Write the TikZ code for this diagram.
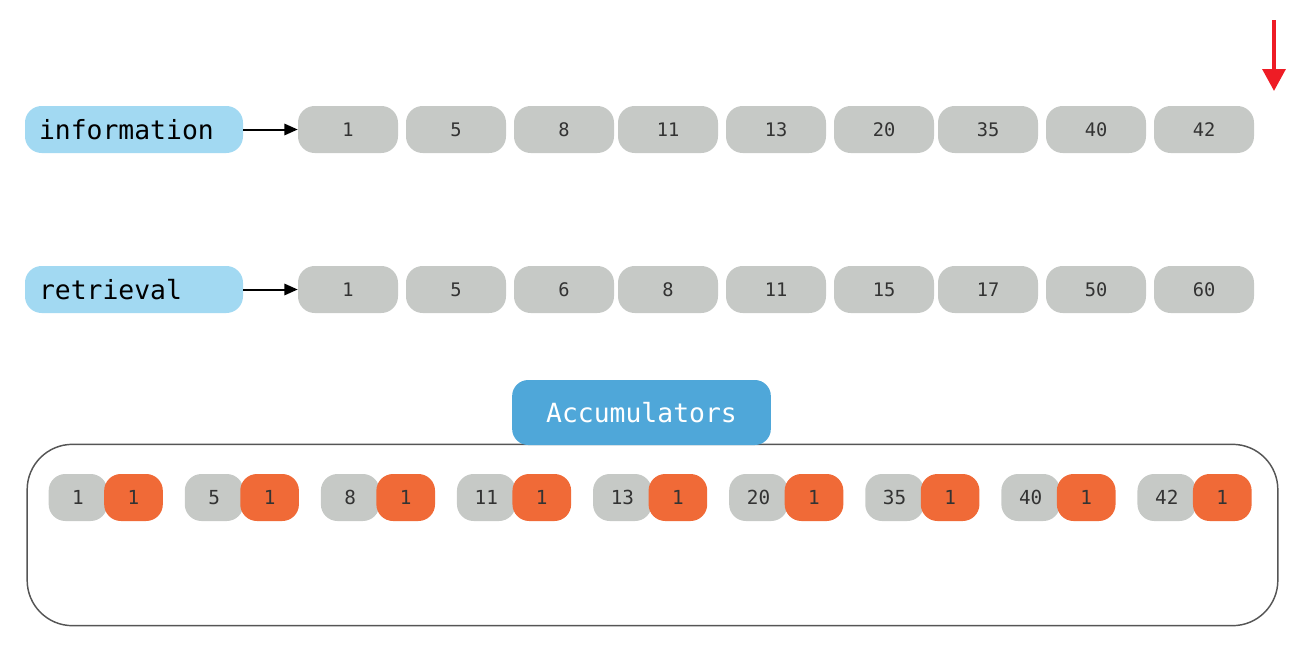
\documentclass[tikz,border=0pt]{standalone}
\usepackage{fontspec}
\newfontfamily\mono{DejaVu Sans Mono}
\usetikzlibrary{arrows.meta}
\definecolor{lblue}{HTML}{A2D9F2}
\definecolor{mblue}{HTML}{4FA7D9}
\definecolor{cgray}{HTML}{C6C9C6}
\definecolor{corange}{HTML}{F06A37}
\definecolor{cred}{HTML}{EE1C25}
\definecolor{ctext}{HTML}{333333}
\definecolor{cframe}{HTML}{555555}
\tikzset{
  termbox/.style={fill=lblue, rounded corners=12.5pt, minimum height=35.25pt, inner xsep=10.5pt, inner ysep=0pt, text width=142.5pt, align=left, font=\mono\fontsize{19.8}{20}\selectfont, text=black},
  postbox/.style={fill=cgray, rounded corners=12.5pt, minimum width=75pt, minimum height=35.25pt, inner sep=0pt, font=\mono\fontsize{14}{15}\selectfont, text=ctext},
  docbox/.style={fill=cgray, rounded corners=12.5pt, minimum width=44pt, minimum height=35.25pt, inner sep=0pt, font=\mono\fontsize{14.5}{15}\selectfont, text=ctext},
  scorebox/.style={fill=corange, rounded corners=12.5pt, minimum width=44pt, minimum height=35.25pt, inner sep=0pt, font=\mono\fontsize{14.5}{15}\selectfont, text=ctext},
  link/.style={-{Triangle[length=10pt,width=8.5pt]}, line width=1.5pt, black},
}
\begin{document}
\begin{tikzpicture}[x=0.75pt,y=-0.75pt]
\useasboundingbox (0,0) rectangle (1303,650);
% term rows
\node[termbox] (info) at (134,129.5) {information};
\node[termbox] (retr) at (134,289.5) {retrieval};
\foreach \v [count=\i] / \x in {1/348,5/456,8/564,11/668,13/776,20/884,35/988,40/1096,42/1204}
  \node[postbox] (a\i) at (\x,129.5) {\v};
\foreach \v [count=\i] / \x in {1/348,5/456,6/564,8/668,11/776,15/884,17/988,50/1096,60/1204}
  \node[postbox] (b\i) at (\x,289.5) {\v};
\draw[link] (info) -- (a1);
\draw[link] (retr) -- (b1);
% red arrow
\coordinate (rs) at (1274,20);
\coordinate (re) at (1274,91);
\draw[-{Triangle[length=16.5pt,width=17pt]}, line width=3.2pt, cred] (rs) -- (re);
% accumulators frame
\node[draw=cframe, line width=1.1pt, rounded corners=34pt, minimum width=938pt, minimum height=136pt, inner sep=0pt] (frame) at (652.5,535) {};
\node[fill=mblue, rounded corners=12pt, minimum width=194pt, minimum height=48.75pt, inner sep=0pt, text=white, font=\mono\fontsize{19.8}{20}\selectfont] (acc) at (641.5,412.5) {Accumulators};
\foreach \v [count=\i] in {1,5,8,11,13,20,35,40,42}{
  \pgfmathsetmacro{\gx}{78+136.1*(\i-1)}
  \node[docbox] (d\i) at (\gx,497.5) {\v};
  \node[scorebox] (s\i) at (\gx+55.5,497.5) {1};
}
\end{tikzpicture}
\end{document}
